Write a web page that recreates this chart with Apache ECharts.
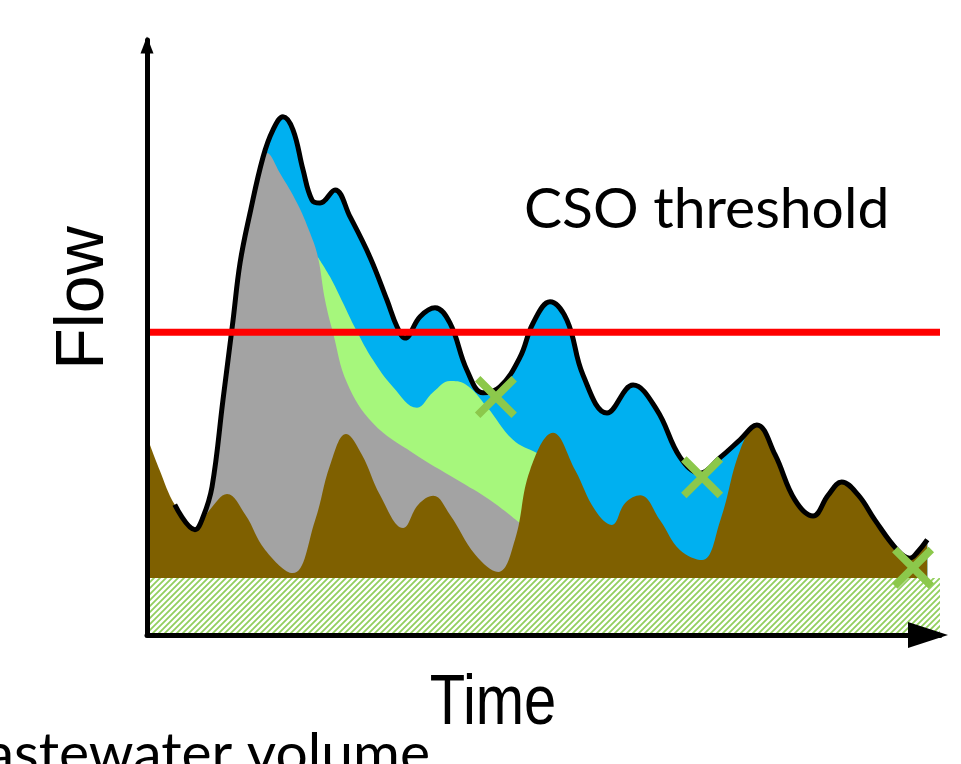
<!DOCTYPE html>
<html>
<head>
<meta charset="utf-8">
<script src="https://cdn.jsdelivr.net/npm/echarts@6/dist/echarts.min.js"></script>
<style>
html,body{margin:0;padding:0;background:#fff;}
#main{width:961px;height:764px;}
</style>
</head>
<body>
<div id="main"></div>
<script>
// ---- Data (Time 0..100, Flow 0..100, conceptual units) ----
// Dry-weather wastewater flow (brown)
const brownT = [0, 1.6, 3.5, 6.05, 7.9, 10.1, 12.4, 14.9, 18.4, 21.2, 23.1, 25.1, 27.1, 29.4, 32.3, 34.2, 36.1, 38.2, 41.4, 44.3, 46.4, 48.3, 51.2, 54.0, 56.5, 58.6, 60.3, 62.2, 64.7, 67.2, 70.0, 72.3, 74.8, 76.9, 79.2, 81.7, 84.0, 85.9, 87.6, 89.7, 91.8, 94.6, 96.2, 97.2, 98.4];
const brownF = [33.3, 27.7, 21.9, 17.7, 21.0, 23.7, 20.2, 14.3, 10.4, 19.3, 28.6, 33.8, 30.3, 23.5, 18.0, 21.9, 23.4, 20.2, 13.5, 10.6, 16.0, 27.7, 34.0, 27.7, 21.0, 18.5, 22.2, 23.5, 19.3, 14.3, 12.6, 19.3, 31.1, 35.3, 30.3, 22.7, 20.0, 23.5, 25.7, 23.5, 19.3, 14.3, 12.9, 14.0, 16.0];
// Total flow during the storm (black outline), before it rejoins the dry-weather flow
const totalT = [3.5, 6.05, 7.06, 8.2, 9.58, 10.85, 11.73, 12.99, 14.63, 15.89, 17.15, 18.41, 19.67, 20.81, 21.82, 23.71, 25.6, 28.12, 30.26, 31.53, 32.53, 34.43, 36.32, 38.21, 40.35, 42.37, 44.51, 47.04, 48.68, 50.82, 52.96, 54.98, 58.01, 61.29, 64.31, 67.21, 69.74, 72.26, 74.78];
const totalF = [21.9, 17.7, 19.8, 24.9, 39.5, 52.9, 62.5, 70.9, 80.3, 84.9, 87.1, 84.9, 78.2, 73.1, 72.6, 74.8, 70.3, 63.5, 56.3, 51.8, 49.9, 53.5, 55.0, 52.4, 44.5, 40.7, 41.7, 46.7, 52.4, 56.0, 52.9, 43.7, 37.3, 42.0, 37.8, 29.9, 27.2, 29.8, 32.8];
// Grey component
const greyT = [6.05, 7.06, 8.2, 9.58, 10.85, 11.73, 12.99, 14.0, 15.13, 16.77, 18.92, 20.55, 21.56, 22.45, 23.46, 25.22, 28.5, 33.54, 39.09, 43.25, 47.04];
const greyF = [17.7, 19.8, 24.9, 39.5, 52.9, 62.5, 70.9, 77.3, 81.0, 77.6, 72.6, 67.6, 63.5, 56.3, 50.8, 42.4, 35.6, 30.6, 26.1, 22.7, 18.8];
// Light-green component
const greenT = [21.56, 23.08, 24.72, 26.36, 28.5, 31.02, 34.05, 36.07, 38.21, 40.1, 42.88, 46.15, 49.18, 50.19];
const greenF = [63.5, 60.2, 55.8, 51.3, 46.2, 41.7, 38.2, 40.8, 42.7, 42.2, 38.3, 32.8, 30.6, 30.1];
// Base (hatched) flow band
const baseT = [0, 100];
const baseF = [9.6, 9.6];
// CSO threshold
const thresholdT = [0, 100];
const thresholdF = [50.9, 50.9];
// End-of-overflow markers
const markT = [44.0, 70.0, 96.6];
const markF = [40.0, 26.5, 11.3];

const zip = (a, b) => a.map((v, i) => [v, b[i]]);
const brownData = zip(brownT, brownF);
const totalData = zip(totalT, totalF).concat(brownData.filter(p => p[0] > 76));

// hatch pattern
const pc = document.createElement('canvas');
pc.width = 6; pc.height = 6;
const g = pc.getContext('2d');
g.fillStyle = '#ffffff'; g.fillRect(0, 0, 6, 6);
g.strokeStyle = '#92cf5e'; g.lineWidth = 1.8;
g.beginPath();
g.moveTo(-1, 7); g.lineTo(7, -1);
g.moveTo(-1, 1); g.lineTo(1, -1);
g.moveTo(5, 7); g.lineTo(7, 5);
g.stroke();

const chart = echarts.init(document.getElementById('main'));
const area = (name, data, color, z) => ({
  name, type: 'line', data, smooth: 0.4, showSymbol: false, silent: true, z,
  lineStyle: { width: 0 }, areaStyle: { color, opacity: 1, origin: 'start' }
});
const xPath = 'path://M0,13 L13,0 L50,37 L87,0 L100,13 L63,50 L100,87 L87,100 L50,63 L13,100 L0,87 L37,50 Z';

chart.setOption({
  animation: false,
  backgroundColor: '#ffffff',
  grid: { left: 147, right: 21, top: 40, bottom: 129 },
  xAxis: {
    type: 'value', min: 0, max: 100, z: 20,
    axisLine: { show: true, lineStyle: { color: '#000', width: 5 }, symbol: ['none', 'triangle'], symbolSize: [26, 40], symbolOffset: [0, -12] },
    axisTick: { show: false }, axisLabel: { show: false }, splitLine: { show: false }
  },
  yAxis: {
    type: 'value', min: 0, max: 100, z: 20,
    axisLine: { show: true, lineStyle: { color: '#000', width: 5 }, symbol: ['none', 'triangle'], symbolSize: [13, 17], symbolOffset: [0, -5] },
    axisTick: { show: false }, axisLabel: { show: false }, splitLine: { show: false }
  },
  series: [
    area('Total', totalData, '#00b0f0', 1),
    area('Green', zip(greenT, greenF), '#a6f77c', 2),
    area('Grey', zip(greyT, greyF), '#a3a3a3', 3),
    area('Wastewater', brownData, '#7f6000', 4),
    { name: 'Base', type: 'line', data: zip(baseT, baseF), showSymbol: false, silent: true, z: 5,
      lineStyle: { width: 0 }, areaStyle: { color: { image: pc, repeat: 'repeat' }, opacity: 1 } },
    { name: 'TotalLine', type: 'line', data: totalData, smooth: 0.4, showSymbol: false, silent: true, z: 6,
      lineStyle: { color: '#000', width: 5 } },
    { name: 'Threshold', type: 'line', data: zip(thresholdT, thresholdF), showSymbol: false, silent: true, z: 7,
      lineStyle: { color: '#ff0000', width: 7 } },
    { name: 'Marks', type: 'scatter', data: zip(markT, markF), symbol: xPath, symbolSize: 42, silent: true, z: 8,
      itemStyle: { color: '#8cc84b', opacity: 1 } }
  ],
  graphic: [
    { type: 'text', x: 84, y: 298, rotation: Math.PI / 2,
      style: { text: 'Flow', font: '68px "Liberation Sans", Arial, sans-serif', fill: '#000', textAlign: 'center', textVerticalAlign: 'middle' } },
    { type: 'text', x: 493, y: 705, scaleY: 1.2,
      style: { text: 'Time', font: '58px "Liberation Sans", Arial, sans-serif', fill: '#000', textAlign: 'center', textVerticalAlign: 'middle' } },
    { type: 'text', x: 524, y: 210,
      style: { text: 'CSO threshold', font: '57px Lato, sans-serif', fill: '#000', textAlign: 'left', textVerticalAlign: 'middle' } },
    { type: 'text', x: 430, y: 755,
      style: { text: 'Wastewater volume', font: '57px Lato, sans-serif', fill: '#000', textAlign: 'right', textVerticalAlign: 'middle' } }
  ]
});
</script>
</body>
</html>
